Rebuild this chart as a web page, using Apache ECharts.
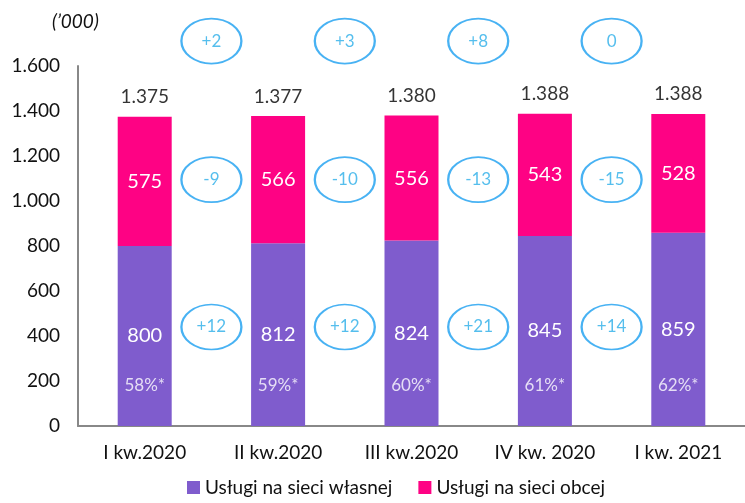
<!DOCTYPE html>
<html>
<head>
<meta charset="utf-8">
<script src="https://cdn.jsdelivr.net/npm/echarts@6/dist/echarts.min.js"></script>
<style>
  html, body { margin: 0; padding: 0; background: #fff; }
  #chart { width: 745px; height: 503px; }
</style>
</head>
<body>
<div id="chart"></div>
<script>
// data
var categories = ['I kw.2020', 'II kw.2020', 'III kw.2020', 'IV kw. 2020', 'I kw. 2021'];
var ownNetwork = [800, 812, 824, 845, 859];
var otherNetwork = [575, 566, 556, 543, 528];
var totals = [1375, 1377, 1380, 1388, 1388];
var ownShare = ['58%*', '59%*', '60%*', '61%*', '62%*'];
var totalChange = ['+2', '+3', '+8', '0'];
var otherChange = ['-9', '-10', '-13', '-15'];
var ownChange = ['+12', '+12', '+21', '+14'];

var FONT = 'Lato, "Open Sans", sans-serif';
var PURPLE = '#7f5ccd';
var MAGENTA = '#fe0284';
var OVAL = '#1a9ff0';

function fmt(v) {
  return String(v).replace(/\B(?=(\d{3})+(?!\d))/g, '.');
}

// ovals sit between bars (x = 1..4 on a hidden 0..5 value axis)
function ovalRow(labels, level) {
  return labels.map(function (t, i) { return { value: [i + 1, level], name: t }; });
}

var ovalSeries = function (labels, level) {
  return {
    type: 'scatter',
    xAxisIndex: 1,
    clip: false,
    silent: true,
    symbol: 'circle',
    symbolSize: [60, 45],
    itemStyle: { color: 'rgba(255,255,255,0)', borderColor: OVAL, borderWidth: 2 },
    label: {
      show: true, position: 'inside', color: '#2aaee8', fontSize: 17, fontFamily: FONT,
      formatter: function (p) { return p.name; }
    },
    data: ovalRow(labels, level)
  };
};

var chart = echarts.init(document.getElementById('chart'));

chart.setOption({
  animation: false,
  textStyle: { fontFamily: FONT },
  grid: { left: 78, right: 0, top: 66, bottom: 77 },
  graphic: [{
    type: 'text', left: 52, top: 12,
    style: { text: '(\u2019000)', font: 'italic 19px ' + FONT, fill: '#111' }
  }],
  legend: {
    bottom: 1, left: 182,
    itemWidth: 13, itemHeight: 13, itemGap: 26,
    icon: 'rect',
    textStyle: { fontSize: 19, color: '#111', fontFamily: FONT },
    data: ['Usługi na sieci własnej', 'Usługi na sieci obcej']
  },
  xAxis: [{
    type: 'category',
    data: categories,
    axisLine: { lineStyle: { color: '#888', width: 2 } },
    axisTick: { show: false },
    axisLabel: { color: '#111', fontSize: 19, margin: 17 }
  }, {
    type: 'value', min: 0, max: 5, show: false
  }],
  yAxis: {
    type: 'value', min: 0, max: 1600, interval: 200,
    axisLine: { show: true, lineStyle: { color: '#888', width: 2 } },
    axisTick: { show: false },
    splitLine: { show: false },
    axisLabel: { color: '#111', fontSize: 19, margin: 18, formatter: fmt }
  },
  series: [
    {
      name: 'Usługi na sieci własnej',
      type: 'bar', stack: 'total', barWidth: 54,
      itemStyle: { color: PURPLE },
      label: { show: true, position: 'inside', color: '#fff', fontSize: 20 },
      data: ownNetwork
    },
    {
      name: 'Usługi na sieci obcej',
      type: 'bar', stack: 'total', barWidth: 54,
      itemStyle: { color: MAGENTA },
      label: { show: true, position: 'inside', color: '#fff', fontSize: 20 },
      data: otherNetwork
    },
    {
      // totals above the bars
      type: 'scatter', silent: true, symbolSize: 0,
      label: {
        show: true, position: 'top', distance: 10, color: '#000', fontSize: 19,
        formatter: function (p) { return fmt(p.value); }
      },
      data: totals
    },
    {
      // share of own network near the bar bottom
      type: 'scatter', silent: true, symbolSize: 0,
      label: {
        show: true, position: 'inside', color: '#fff', fontSize: 17,
        formatter: function (p) { return ownShare[p.dataIndex]; }
      },
      data: ownShare.map(function () { return 182; })
    },
    ovalSeries(totalChange, 1711),
    ovalSeries(otherChange, 1095),
    ovalSeries(ownChange, 440)
  ]
});
</script>
</body>
</html>
